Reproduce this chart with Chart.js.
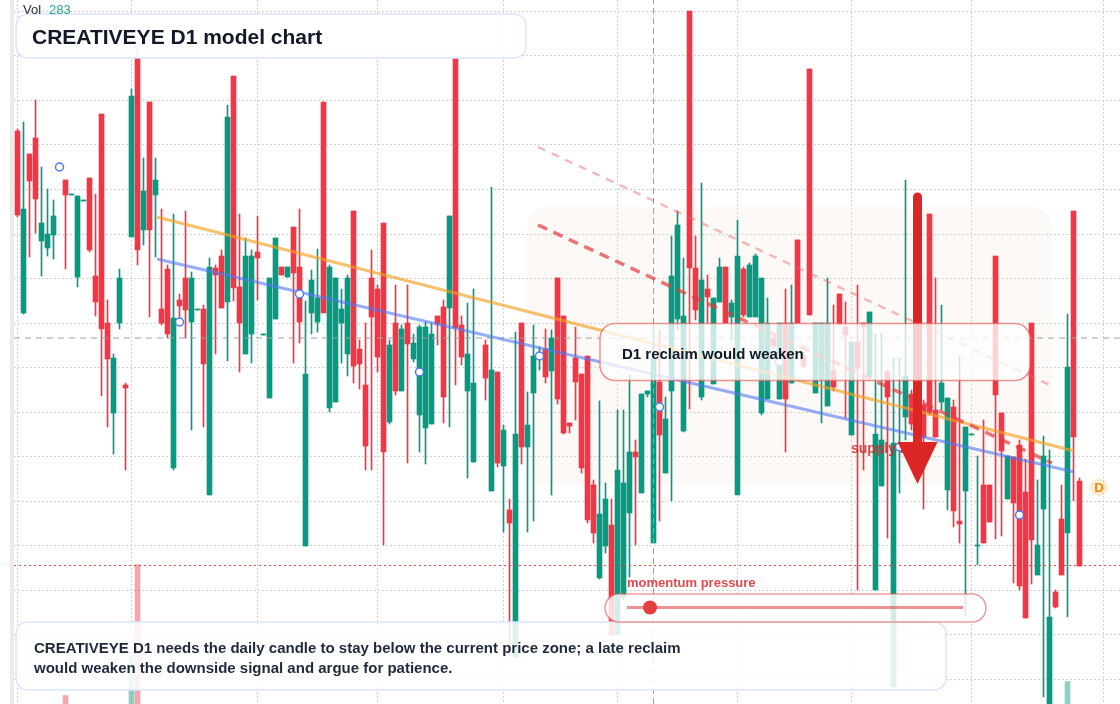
<!DOCTYPE html>
<html>
<head>
<meta charset="utf-8">
<title>CREATIVEYE D1 model chart</title>
<script src="https://cdn.jsdelivr.net/npm/chart.js@4.4.1/dist/chart.umd.min.js"></script>
<style>
  html, body { margin: 0; padding: 0; background: #fff; }
  #wrap { position: relative; width: 1120px; height: 704px; }
</style>
</head>
<body>
<div id="wrap"><canvas id="chart"></canvas></div>
<script>
// daily candles, one entry per session (null = no print)
const opens = [
  66.9, 48.7, 64.6, 66.2, 55.9, 55.2, 56.5, 63.2, 62.0, 60.5,
  52.3, 59.9, 62.2, 52.4, 68.6, 47.7, 38.7, 47.7, 41.5, 56.3,
  74.2, 57.0, 69.8, 60.5, 49.1, 53.1, 33.2, 50.0, 52.2, 47.8,
  49.0, 49.1, 30.5, 53.2, 54.4, 49.8, 72.4, 51.3, 44.6, 46.6,
  54.8, 46.5, 40.2, 48.1, 53.3, 52.3, 57.3, 53.3, 25.4, 48.7,
  47.8, 69.8, 39.2, 39.8, 47.7, 44.6, 58.9, 45.1, 41.5, 52.2,
  51.1, 57.7, 37.8, 47.7, 40.9, 47.7, 44.1, 38.5, 37.2, 37.6,
  48.4, 49.3, 49.2, 74.2, 47.5, 40.9, 33.8, null, 45.5, 30.9,
  42.8, 33.4, 29.0, 14.3, 47.7, 35.3, 40.7, 44.3, 45.1, 42.9,
  52.2, 48.4, 37.7, 44.2, 42.6, 44.4, 31.5, 22.2, 25.4, 27.5,
  16.5, 20.3, 28.7, 34.8, 30.7, 40.6, 25.7, 41.8, 32.7, 40.9,
  48.1, 36.9, 78.9, 53.2, 40.3, 51.1, 41.6, 49.8, 53.3, 48.3,
  30.5, 53.1, 48.3, 48.3, 38.7, 40.1, 46.2, 40.1, 47.7, 41.7,
  56.0, 44.4, 73.1, 40.7, 42.0, 39.4, 43.0, 50.6, 47.3, 36.5,
  45.8, 47.7, 42.3, 21.0, 31.4, 42.8, 11.3, 35.3, 38.3, 40.6,
  41.0, 39.5, 58.6, 39.0, 39.8, 31.0, 39.3, 27.9, 30.9, 36.5,
  25.4, 31.5, 31.5, 54.4, 38.7, 30.1, 34.3, 35.5, 30.8, 47.7,
  22.5, 29.1, 9.0, 20.8, 28.1, 26.7, 58.9, 31.9
];
const highs = [
  67.1, 67.8, 64.6, 70.0, 63.3, 61.1, 60.0, 63.5, 62.0, 60.6,
  60.4, 60.0, 62.2, 60.6, 68.6, 50.0, 44.6, 53.1, 41.7, 71.1,
  75.3, 64.2, 69.8, 64.2, 59.1, 53.5, 58.6, 50.6, 58.9, 52.8,
  49.1, 49.5, 54.2, 53.5, 55.0, 69.5, 72.4, 58.6, 56.2, 55.0,
  58.4, 46.6, 52.2, 56.2, 53.3, 53.3, 57.3, 59.1, 49.9, 53.0,
  55.1, 69.8, 53.5, 52.2, 51.1, 52.5, 58.9, 46.0, 47.7, 55.0,
  51.5, 57.7, 46.0, 51.5, 47.5, 51.5, 46.6, 47.5, 47.8, 47.7,
  48.4, 50.0, 58.4, 74.5, 48.4, 49.7, 51.1, null, 46.0, 61.3,
  42.8, 37.5, 30.1, 46.8, 47.7, 40.8, 47.5, 45.3, 47.1, 47.0,
  52.2, 48.4, 37.7, 47.3, 42.6, 44.4, 32.0, 39.9, 31.7, 30.1,
  39.0, 39.0, 42.5, 36.0, 40.6, 40.9, 47.5, 47.0, 40.3, 56.4,
  58.9, 54.2, 78.9, 56.4, 61.7, 52.5, 50.2, 54.2, 53.3, 50.0,
  58.0, 53.3, 53.7, 54.6, 52.2, 50.2, 46.5, 47.7, 51.1, 51.5,
  56.0, 44.8, 73.1, 47.7, 47.7, 52.2, 49.5, 50.6, 49.8, 45.8,
  51.5, 47.7, 48.8, 46.6, 46.7, 43.0, 44.2, 44.2, 62.0, 41.0,
  41.5, 40.0, 58.6, 52.2, 49.5, 40.2, 40.0, 44.4, 37.3, 36.6,
  34.4, 38.0, 31.5, 54.4, 38.7, 34.4, 34.3, 36.0, 34.1, 47.7,
  32.0, 36.4, 35.0, 21.0, 31.5, 48.6, 58.9, 32.2
];
const lows = [
  58.3, 48.6, 54.3, 56.7, 52.4, 54.4, 54.1, 63.0, 53.1, 60.5,
  51.3, 59.9, 54.8, 48.4, 40.4, 37.3, 34.6, 47.1, 33.0, 56.3,
  53.5, 55.5, 48.3, 54.3, 47.5, 46.2, 33.0, 48.3, 46.2, 37.0,
  49.0, 37.3, 30.5, 44.6, 49.2, 43.9, 49.9, 42.8, 44.6, 43.7,
  50.0, 46.5, 40.2, 48.1, 52.5, 52.3, 43.7, 45.7, 25.4, 46.6,
  46.8, 48.7, 38.8, 39.8, 43.7, 42.4, 41.7, 41.1, 33.0, 33.0,
  42.8, 25.5, 37.6, 40.5, 40.9, 33.7, 43.8, 34.8, 33.6, 37.6,
  45.5, 37.7, 37.3, 41.5, 43.5, 32.2, 33.8, null, 40.0, 30.9,
  33.3, 26.8, 14.3, 14.3, 33.6, 26.8, 27.9, 43.0, 41.7, 30.5,
  39.6, 36.6, 36.7, 38.0, 32.7, 27.7, 25.7, 22.1, 24.7, 16.5,
  16.5, 20.0, 22.3, 25.5, 30.7, 40.3, 25.7, 27.9, 32.7, 29.9,
  47.0, 36.8, 39.1, 48.0, 40.0, 47.7, 41.6, 49.8, 47.7, 46.0,
  30.5, 48.3, 48.3, 48.3, 38.5, 40.1, 45.2, 40.1, 34.8, 41.7,
  47.7, 43.2, 48.5, 40.7, 37.7, 39.4, 40.9, 47.5, 38.2, 36.5,
  21.0, 33.0, 42.3, 21.0, 31.4, 26.2, 11.3, 30.7, 36.0, 37.0,
  35.0, 29.1, 38.5, 36.3, 39.0, 29.0, 27.3, 25.7, 18.4, 36.5,
  23.5, 25.7, 27.8, 26.1, 26.4, 30.1, 21.7, 21.0, 18.2, 21.6,
  22.5, 10.3, 9.0, 19.2, 22.5, 18.3, 29.9, 23.4
];
const closes = [
  58.5, 59.1, 61.9, 60.1, 57.7, 56.6, 58.4, 63.3, 60.5, 60.6,
  60.4, 60.0, 55.0, 49.8, 47.1, 44.1, 44.2, 52.2, 41.2, 70.4,
  55.0, 60.9, 57.0, 62.0, 47.7, 46.6, 48.2, 49.4, 49.0, 52.2,
  49.1, 43.6, 53.3, 52.5, 49.2, 68.3, 51.2, 47.7, 54.4, 54.4,
  54.2, 46.6, 52.2, 56.2, 52.5, 53.3, 52.7, 47.8, 42.6, 52.0,
  50.2, 48.7, 53.3, 52.2, 49.1, 52.2, 43.4, 43.6, 35.4, 48.3,
  44.3, 34.8, 45.5, 40.9, 47.1, 45.6, 45.7, 47.3, 47.3, 46.6,
  47.6, 40.3, 58.4, 47.2, 44.3, 44.6, 41.7, null, 42.2, 43.0,
  33.7, 37.0, 27.7, 36.6, 35.3, 37.5, 44.4, 44.4, 42.3, 46.2,
  40.1, 36.7, 37.4, 41.8, 33.2, 28.0, 26.7, 28.6, 30.1, 16.5,
  33.0, 31.7, 34.8, 34.3, 40.6, 40.9, 44.2, 36.5, 38.1, 52.4,
  57.5, 48.4, 53.2, 49.0, 52.0, 50.3, 50.2, 53.3, 47.7, 49.7,
  54.4, 48.5, 53.5, 54.4, 52.2, 47.7, 45.4, 47.7, 40.1, 47.7,
  47.7, 43.4, 48.5, 47.7, 47.7, 47.7, 41.3, 47.5, 46.5, 45.8,
  43.2, 47.3, 48.8, 36.6, 36.0, 40.3, 35.7, 35.4, 42.4, 37.6,
  36.0, 36.3, 38.7, 36.3, 41.7, 40.2, 28.9, 27.6, 37.3, 36.6,
  25.5, 25.7, 27.8, 40.5, 34.9, 34.4, 29.7, 21.4, 18.2, 26.0,
  25.5, 34.4, 18.3, 19.3, 22.5, 43.3, 36.3, 23.4
];
const volumes = [
  212, 198, 176, 231, 154, 143, 167, 121, 256, 138,
  189, 117, 204, 165, 226, 183, 149, 172, 128, 285,
  349, 163, 238, 141, 156, 177, 219, 112, 168, 186,
  107, 195, 233, 131, 148, 224, 241, 173, 162, 157,
  134, 96, 188, 171, 104, 99, 151, 169, 229, 126,
  137, 236, 192, 181, 118, 164, 207, 132, 176, 190,
  158, 227, 146, 161, 139, 152, 115, 174, 182, 166,
  123, 170, 196, 239, 129, 187, 201, null, 144, 221,
  203, 172, 209, 234, 197, 178, 163, 119, 136, 175,
  199, 184, 127, 158, 193, 211, 147, 185, 162, 216,
  228, 191, 174, 153, 169, 108, 222, 179, 142, 205,
  186, 198, 244, 159, 213, 133, 171, 145, 160, 150,
  217, 155, 141, 162, 189, 167, 113, 171, 184, 158,
  176, 118, 232, 164, 149, 168, 135, 129, 151, 173,
  208, 124, 156, 214, 181, 187, 225, 140, 202, 146,
  173, 180, 218, 166, 152, 190, 194, 177, 175, 103,
  148, 172, 139, 222, 183, 144, 186, 206, 212, 230,
  161, 219, 237, 128, 178, 266, 235, 189
];

// session index where each month starts (vertical grid)
const monthStarts = [0, 19, 40, 60, 81, 100, 120, 139, 159, 181];
// price levels of the horizontal grid
const priceGrid = [78.87, 74.42, 69.96, 65.51, 61.06, 56.6, 52.15, 47.7, 43.25, 38.79, 34.34, 29.89, 25.43, 20.98, 16.53, 12.08];

// model marks
const markerIdx = [7, 27, 47, 67, 87, 107, 127, 147, 167];
const markerVal = [63.3, 47.8, 50.6, 42.8, 44.4, 39.3, 43.8, 35.3, 28.5];
const fastTrend = [{ x: 23.25, y: 58.3 }, { x: 176.1, y: 34.9 }];
const slowTrend = [{ x: 23.25, y: 54.1 }, { x: 176.1, y: 32.8 }];
const channelTop = [{ x: 86.75, y: 65.3 }, { x: 172.4, y: 41.4 }];
const channelMid = [{ x: 86.75, y: 57.5 }, { x: 172.4, y: 33.7 }];
const currentPrice = 46.2;
const triggerLevel = 23.45;
const crosshairIdx = 106;
const zone = { from: 84.9, to: 172.4, top: 59.3, bottom: 31.5 };
const arrow = { index: 150, from: 60.3, headBase: 35.8, tip: 31.6 };
const supplyTag = { x: 138.9, y: 34.67 };
const badge = { x: 180.25, y: 31.27 };

const X_MIN = -0.58333, X_MAX = 183.75;
const Y_MIN = 9.6, Y_MAX = 80;

const UP = '#089981', DOWN = '#f23645';
const FONT = '"Liberation Sans", Arial, Helvetica, sans-serif';

const idx = opens.map((o, i) => i).filter(i => opens[i] !== null);
const isUp = i => closes[i] >= opens[i];

const bodies = idx.map(i => ({ x: i, y: [opens[i], closes[i]] }));
const wicks = idx.map(i => ({ x: i, y: [lows[i], highs[i]] }));
const vols = idx.map(i => ({ x: i, y: volumes[i] }));
const candleColors = idx.map(i => isUp(i) ? UP : DOWN);
const volColors = idx.map(i => isUp(i) ? 'rgba(8,153,129,0.45)' : 'rgba(242,54,69,0.45)');
const markers = markerIdx.map((k, i) => ({ x: k, y: markerVal[i] }));

function rounded(ctx, x, y, w, h, r) {
    ctx.beginPath()
    ctx.moveTo(x + r, y)
    ctx.arcTo(x + w, y, x + w, y + h, r)
    ctx.arcTo(x + w, y + h, x, y + h, r)
    ctx.arcTo(x, y + h, x, y, r)
    ctx.arcTo(x, y, x + w, y, r)
    ctx.closePath()
}

const overlay = {
    id: 'overlay',
    beforeDraw(chart) {
        const ctx = chart.ctx
        ctx.save()
        ctx.fillStyle = '#ebebeb'
        ctx.fillRect(10, 0, 4, chart.height)
        ctx.restore()
    },
    beforeDatasetsDraw(chart) {
        const { ctx, scales: { x, y } } = chart
        const l = x.getPixelForValue(zone.from), r = x.getPixelForValue(zone.to)
        const t = y.getPixelForValue(zone.top), b = y.getPixelForValue(zone.bottom)
        ctx.save()
        ctx.fillStyle = 'rgba(245, 222, 205, 0.18)'
        rounded(ctx, l, t, r - l, b - t, 20)
        ctx.fill()
        ctx.restore()
    },
    afterDatasetsDraw(chart) {
        const { ctx, scales: { x, y } } = chart
        ctx.save()

        // supply zone tag (sits under the arrow head)
        ctx.font = 'bold 14px ' + FONT
        ctx.fillStyle = 'rgba(220, 38, 38, 0.85)'
        ctx.fillText('supply zone', x.getPixelForValue(supplyTag.x), y.getPixelForValue(supplyTag.y))

        // downside arrow
        const ax = x.getPixelForValue(arrow.index)
        const aTop = y.getPixelForValue(arrow.from)
        const aBase = y.getPixelForValue(arrow.headBase)
        const aTip = y.getPixelForValue(arrow.tip)
        ctx.strokeStyle = '#dc2626'
        ctx.lineWidth = 9
        ctx.lineCap = 'round'
        ctx.beginPath()
        ctx.moveTo(ax, aTop)
        ctx.lineTo(ax, aBase + 2)
        ctx.stroke()
        ctx.fillStyle = '#dc2626'
        ctx.beginPath()
        ctx.moveTo(ax - 20, aBase)
        ctx.lineTo(ax + 20, aBase)
        ctx.lineTo(ax, aTip)
        ctx.closePath()
        ctx.fill()

        // callout
        rounded(ctx, 600, 323.5, 430, 57, 15)
        ctx.fillStyle = 'rgba(255,255,255,0.78)'
        ctx.fill()
        ctx.lineWidth = 1.5
        ctx.strokeStyle = 'rgba(228, 90, 90, 0.65)'
        ctx.stroke()
        ctx.fillStyle = '#111827'
        ctx.font = 'bold 15px ' + FONT
        ctx.fillText('D1 reclaim would weaken', 622, 359)

        // D badge
        const bx = x.getPixelForValue(badge.x), by = y.getPixelForValue(badge.y)
        ctx.beginPath()
        ctx.arc(bx, by, 9, 0, Math.PI * 2)
        ctx.fillStyle = 'rgba(255, 170, 60, 0.22)'
        ctx.fill()
        ctx.fillStyle = '#f5870a'
        ctx.font = 'bold 13px ' + FONT
        ctx.textAlign = 'center'
        ctx.textBaseline = 'middle'
        ctx.fillText('D', bx, by + 1)
        ctx.textAlign = 'left'
        ctx.textBaseline = 'alphabetic'

        // note box
        rounded(ctx, 16, 622, 930, 68, 12)
        ctx.fillStyle = 'rgba(255,255,255,0.87)'
        ctx.fill()
        ctx.lineWidth = 1.5
        ctx.strokeStyle = '#d9e6fb'
        ctx.stroke()
        ctx.fillStyle = '#1e293b'
        ctx.font = 'bold 15px ' + FONT
        ctx.fillText('CREATIVEYE D1 needs the daily candle to stay below the current price zone; a late reclaim', 34, 653)
        ctx.fillText('would weaken the downside signal and argue for patience.', 34, 673)

        // momentum gauge
        ctx.font = 'bold 13px ' + FONT
        ctx.fillStyle = '#e5484d'
        ctx.fillText('momentum pressure', 627, 587)
        rounded(ctx, 605, 594, 381, 28, 14)
        ctx.fillStyle = 'rgba(255,255,255,0.82)'
        ctx.fill()
        ctx.lineWidth = 1.5
        ctx.strokeStyle = 'rgba(228, 90, 90, 0.6)'
        ctx.stroke()
        ctx.beginPath()
        ctx.moveTo(627, 607.5)
        ctx.lineTo(963, 607.5)
        ctx.lineWidth = 3
        ctx.lineCap = 'butt'
        ctx.strokeStyle = 'rgba(225, 70, 70, 0.6)'
        ctx.stroke()
        ctx.beginPath()
        ctx.arc(650, 607.5, 7, 0, Math.PI * 2)
        ctx.fillStyle = '#e53e3e'
        ctx.fill()

        // title box
        rounded(ctx, 16, 14, 510, 44, 12)
        ctx.fillStyle = 'rgba(255,255,255,0.9)'
        ctx.fill()
        ctx.lineWidth = 1.5
        ctx.strokeStyle = '#d9e6fb'
        ctx.stroke()
        ctx.fillStyle = '#111827'
        ctx.font = 'bold 21px ' + FONT
        ctx.fillText('CREATIVEYE D1 model chart', 32, 43.5)

        // volume readout
        ctx.font = '13px ' + FONT
        ctx.fillStyle = '#2a2e39'
        ctx.fillText('Vol', 23, 13.5)
        ctx.fillStyle = '#26a69a'
        ctx.fillText('283', 49, 13.5)

        ctx.restore()
    }
}

const flat = v => [{ x: X_MIN, y: v }, { x: X_MAX, y: v }]

new Chart(document.getElementById('chart').getContext('2d'), {
    type: 'bar',
    data: {
        datasets: [
            {
                type: 'line', data: markers, showLine: false, order: 0,
                pointRadius: 4, pointBorderWidth: 1.5,
                pointBorderColor: '#4a7bf0', pointBackgroundColor: '#ffffff'
            },
            {
                type: 'line', data: channelTop, order: 1, pointRadius: 0,
                borderColor: 'rgba(235, 100, 100, 0.45)', borderWidth: 2.5, borderDash: [8, 7]
            },
            {
                type: 'line', data: channelMid, order: 1, pointRadius: 0,
                borderColor: 'rgba(225, 60, 60, 0.7)', borderWidth: 3.5, borderDash: [10, 7]
            },
            {
                type: 'line', data: fastTrend, order: 2, pointRadius: 0,
                borderColor: 'rgba(245, 160, 30, 0.65)', borderWidth: 3
            },
            {
                type: 'line', data: slowTrend, order: 2, pointRadius: 0,
                borderColor: 'rgba(80, 120, 240, 0.6)', borderWidth: 3
            },
            {
                type: 'line', data: flat(currentPrice), order: 3, pointRadius: 0,
                borderColor: '#9e9e9e', borderWidth: 1, borderDash: [6, 5]
            },
            {
                type: 'line', data: flat(triggerLevel), order: 3, pointRadius: 0,
                borderColor: 'rgba(229, 57, 53, 0.9)', borderWidth: 1, borderDash: [2, 3]
            },
            {
                type: 'line', data: [{ x: crosshairIdx, y: Y_MIN }, { x: crosshairIdx, y: Y_MAX }],
                order: 3, pointRadius: 0, borderColor: '#9e9e9e', borderWidth: 1, borderDash: [6, 4]
            },
            {
                data: bodies, order: 5, grouped: false, barThickness: 5, minBarLength: 1,
                backgroundColor: candleColors, borderWidth: 0
            },
            {
                data: wicks, order: 6, grouped: false, barThickness: 1, minBarLength: 1,
                backgroundColor: candleColors, borderWidth: 0
            },
            {
                data: vols, yAxisID: 'vol', order: 7, grouped: false, barThickness: 5,
                backgroundColor: volColors, borderWidth: 0
            }
        ]
    },
    options: {
        responsive: true,
        maintainAspectRatio: false,
        animation: false,
        devicePixelRatio: 1,
        events: [],
        layout: { autoPadding: false, padding: { left: 14, right: 0, top: 0, bottom: 0 } },
        plugins: { legend: { display: false }, tooltip: { enabled: false } },
        scales: {
            x: {
                type: 'linear', min: X_MIN, max: X_MAX, offset: false,
                grid: { color: '#d2d2d2', lineWidth: 1, drawTicks: false, offset: false },
                border: { display: false, dash: [2, 2] },
                ticks: { display: false },
                afterBuildTicks: s => { s.ticks = monthStarts.map(v => ({ value: v })) }
            },
            y: {
                type: 'linear', min: Y_MIN, max: Y_MAX,
                grid: { color: '#d2d2d2', lineWidth: 1, drawTicks: false },
                border: { display: false, dash: [2, 2] },
                ticks: { display: false },
                afterBuildTicks: s => { s.ticks = priceGrid.map(v => ({ value: v })) }
            },
            vol: {
                type: 'linear', display: false, min: 250, max: 750
            }
        }
    },
    plugins: [overlay]
})
</script>
</body>
</html>
